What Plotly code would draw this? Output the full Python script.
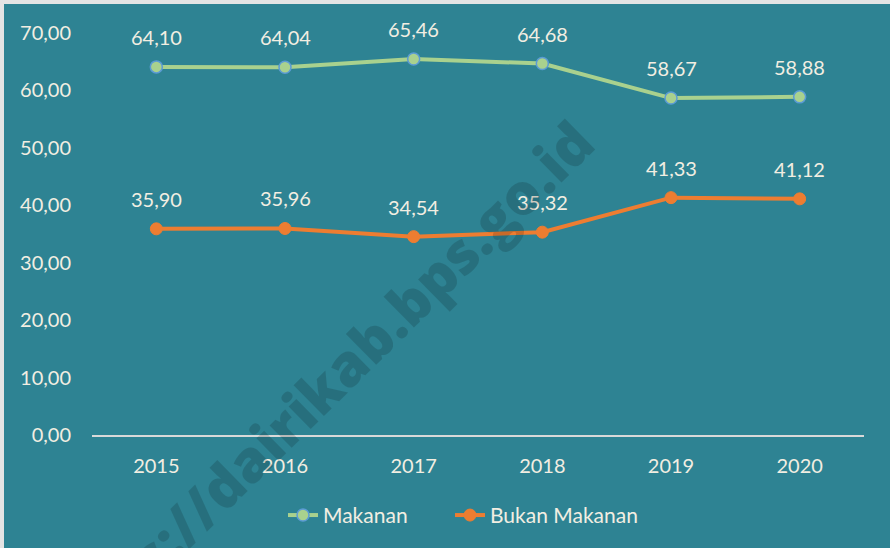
import plotly.graph_objects as go

years = [2015, 2016, 2017, 2018, 2019, 2020]
makanan = [64.10, 64.04, 65.46, 64.68, 58.67, 58.88]
bukan_makanan = [35.90, 35.96, 34.54, 35.32, 41.33, 41.12]
y_ticks = [0, 10, 20, 30, 40, 50, 60, 70]

TEAL = "rgb(46,131,147)"
TXT = "#F2EEE2"
FONT = "Lato, 'Noto Sans', sans-serif"

fig = go.Figure()
fig.add_trace(go.Scatter(
    x=years, y=makanan, name="Makanan", mode="lines+markers", legend="legend",
    line=dict(color="#A9D18E", width=4),
    marker=dict(size=12, color="#A9D18E", line=dict(color="#5B9BD5", width=1.5)),
))
fig.add_trace(go.Scatter(
    x=years, y=bukan_makanan, name="Bukan Makanan", mode="lines+markers", legend="legend2",
    line=dict(color="#ED7D31", width=4),
    marker=dict(size=12, color="#ED7D31", line=dict(color="#ED7D31", width=1)),
))

ann = []
for series in (makanan, bukan_makanan):
    for x, v in zip(years, series):
        ann.append(dict(x=x, y=v, text=f"{v:.2f}".replace(".", ","), showarrow=False,
                        xanchor="center", yanchor="middle",
                        yshift=30, font=dict(size=20, color=TXT, family=FONT)))
ann.append(dict(xref="paper", yref="paper", x=0.29, y=0.105, xanchor="center", yanchor="middle",
                text="https://dairikab.bps.go.id", showarrow=False, textangle=-44.5,
                font=dict(size=57, color="rgba(0,0,0,0.15)", family="'Open Sans', sans-serif",
                          weight=800)))

leg_common = dict(orientation="h", y=-0.2, yanchor="middle", xanchor="left",
                  bgcolor="rgba(0,0,0,0)", font=dict(size=21, color=TXT, family=FONT))

fig.update_layout(
    width=890, height=548,
    margin=dict(l=92, r=26, t=33, b=113),
    paper_bgcolor="#E4E4E4", plot_bgcolor="rgba(0,0,0,0)",
    separators=",.",
    font=dict(family=FONT, color=TXT, size=20),
    showlegend=True,
    legend=dict(x=(283 - 92) / 772, **leg_common),
    legend2=dict(x=(450 - 92) / 772, **leg_common),
    annotations=ann,
    shapes=[dict(type="rect", xref="paper", yref="paper", x0=(4 - 92) / 772, x1=1.2,
                 y0=-0.4, y1=(435 - 4) / 402, fillcolor=TEAL, line=dict(width=0), layer="below")],
    xaxis=dict(type="linear", range=[min(years) - 0.5, max(years) + 0.5], tickvals=years,
               tickformat="d", showgrid=False, showline=True, linecolor="#D9D9D9", linewidth=2,
               ticks="", ticklabelstandoff=12, tickfont=dict(size=20, color=TXT), zeroline=False),
    yaxis=dict(range=[0, 70], tickvals=y_ticks, tickformat=".2f", showgrid=False,
               zeroline=False, showline=False, ticks="", ticklabelstandoff=20,
               tickfont=dict(size=20, color=TXT)),
)
fig.write_html("out.html", post_script="document.body.style.margin='0';",
               config={"displayModeBar": False})
